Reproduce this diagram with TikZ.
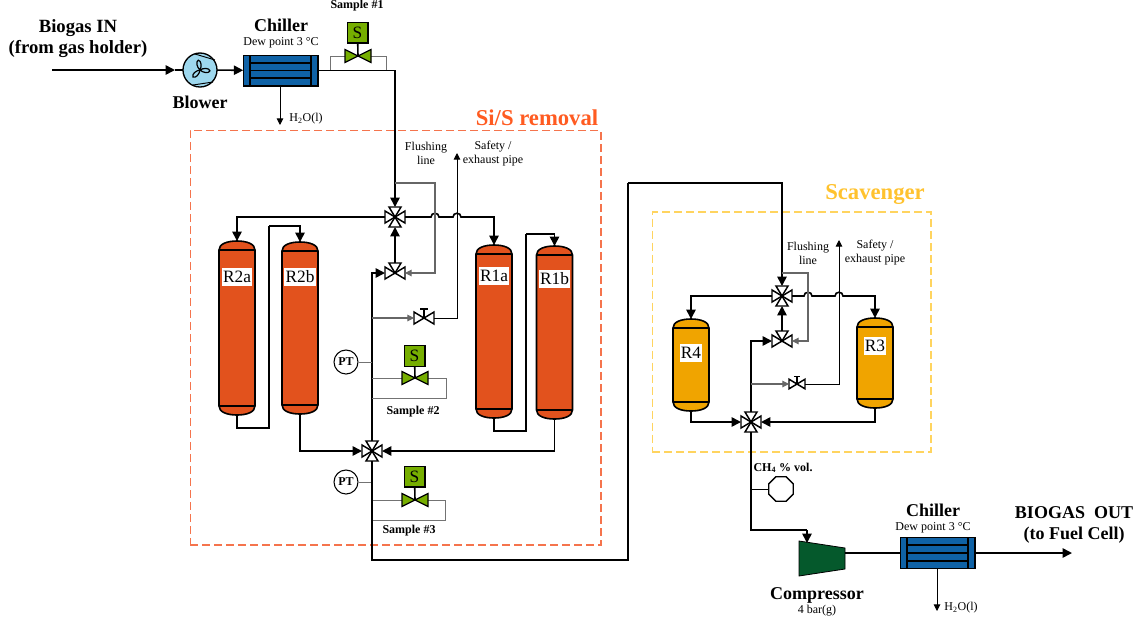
\documentclass[tikz,border=0pt]{standalone}
\usepackage{fontspec}
\setmainfont{Liberation Serif}
\usetikzlibrary{shapes.geometric, arrows.meta, positioning}

\definecolor{reactorred}{HTML}{E2521D}
\definecolor{reactoryel}{HTML}{F0A400}
\definecolor{chillblue}{HTML}{0F62A6}
\definecolor{blowblue}{HTML}{9ED8EE}
\definecolor{sgreen}{HTML}{76AE00}
\definecolor{compgreen}{HTML}{05592C}
\definecolor{siorange}{HTML}{F5744D}
\definecolor{sititle}{HTML}{FF5B21}
\definecolor{scavyel}{HTML}{FFD45F}
\definecolor{scavtitle}{HTML}{FFC22E}

% vessel: name, x, top, bottom, colour, label, label y
\newcommand{\vessel}[7]{%
  \pgfmathsetmacro{\vesT}{#3+9}
  \pgfmathsetmacro{\vesB}{#4-9}
  \pgfmathsetmacro{\vesM}{(#3+#4)/2}
  \pgfmathsetmacro{\vesH}{(#4-#3)*0.75}
  \filldraw[shell, fill=#5] (#2-18,\vesT) .. controls (#2-18,#3+3) and (#2-10,#3) .. (#2,#3)
    .. controls (#2+10,#3) and (#2+18,#3+3) .. (#2+18,\vesT) -- (#2+18,\vesB)
    .. controls (#2+18,#4-3) and (#2+10,#4) .. (#2,#4)
    .. controls (#2-10,#4) and (#2-18,#4-3) .. (#2-18,\vesB) -- cycle;
  \draw[shell] (#2-18,\vesT) -- (#2+18,\vesT) (#2-18,\vesB) -- (#2+18,\vesB);
  \node[inner sep=0pt, outer sep=0pt, minimum width=27pt, minimum height=\vesH pt] (#1) at (#2,\vesM) {};
  \node[tag] (#1tag) at (#2,#7) {#6};
}

\tikzset{
  shell/.style={line width=1.2pt},
  tag/.style={fill=white, inner xsep=1pt, inner ysep=2.5pt, font=\fontsize{13}{13}\selectfont},
  head/.style={font=\fontsize{13.5}{16}\selectfont\bfseries, align=center},
  small/.style={font=\fontsize{9}{10.5}\selectfont, align=center},
  smallb/.style={font=\fontsize{9}{10.5}\selectfont\bfseries, align=center},
  port/.style={rectangle, inner sep=0pt, outer sep=0pt, minimum size=15pt},
  chiller/.style={rectangle, draw=black, line width=1pt, fill=chillblue, minimum width=56pt, minimum height=23pt, inner sep=0pt, outer sep=0pt},
  sbox/.style={rectangle, draw=black, line width=1pt, fill=sgreen, minimum size=15.5pt, inner sep=0pt, font=\fontsize{13}{13}\selectfont},
  probe/.style={circle, draw=black, line width=0.8pt, fill=white, minimum size=18pt, inner sep=0pt, font=\fontsize{9}{9}\selectfont\bfseries},
  pipe/.style={line width=1.2pt},
  flow/.style={-{Triangle[length=7pt, width=7pt]}, line width=1.2pt},
  bleed/.style={line width=0.7pt, draw=black!55},
  feed/.style={-{Triangle[length=5pt, width=5pt]}, line width=0.8pt, draw=black!60},
  thinflow/.style={-{Triangle[length=5pt, width=5pt]}, line width=0.7pt},
  area/.style={rectangle, dash pattern=on 6pt off 3pt, line width=1pt, inner sep=0pt},
  valveline/.style={draw=black, line width=1.1pt, fill=white},
  fourway/.pic={
    \foreach \ang in {0,90,180,270}
      \filldraw[valveline, rotate=\ang] (0,0) -- (10,-6) -- (10,6) -- cycle;
    \fill (0,0) circle[radius=1.2];
  },
  threeway/.pic={
    \foreach \ang in {0,180,90}
      \filldraw[valveline, rotate=\ang] (0,0) -- (10,-6) -- (10,6) -- cycle;
    \fill (0,0) circle[radius=1.2];
  },
  gatevalve/.pic={
    \draw[line width=0.9pt] (0,0) -- (0,-9) (-4,-9) -- (4,-9);
    \foreach \ang in {0,180}
      \filldraw[valveline, rotate=\ang] (0,0) -- (10,-6) -- (10,6) -- cycle;
  },
  greenvalve/.pic={
    \foreach \ang in {0,180}
      \filldraw[draw=black, line width=0.9pt, fill=sgreen, rotate=\ang] (0,0) -- (13,-6.5) -- (13,6.5) -- cycle;
  },
  tubes/.pic={
    \draw[line width=1.3pt] (-30.5,-15) -- (-30.5,15) (30.5,-15) -- (30.5,15)
      (-30.5,-7.7) -- (30.5,-7.7) (-30.5,0) -- (30.5,0) (-30.5,7.7) -- (30.5,7.7);
  },
  fan/.pic={
    \draw[line width=0.7pt] (-5,-16) -- (15,-10) (-7,15) -- (13,12);
    \foreach \ang in {100,225,355}
      \filldraw[fill=blowblue, draw=black, line width=0.9pt, rotate=\ang]
        (0,0) .. controls (3,-2.5) and (9,-3) .. (10,0) .. controls (9,3) and (3,2.5) .. (0,0);
  }
}

\begin{document}
\begin{tikzpicture}[x=0.75pt, y=-0.75pt]
\useasboundingbox (0,0) rectangle (1140,626);

% Dashed areas
\node[area, draw=siorange, minimum width=308pt, minimum height=311pt] (siarea) at (395.5,337.5) {};
\node[area, draw=scavyel, minimum width=209pt, minimum height=180pt] (scavarea) at (791.5,332) {};
\node[font=\fontsize{17}{17}\selectfont\bfseries, text=sititle] (sititle) at (537,118) {Si/S removal};
\node[font=\fontsize{17}{17}\selectfont\bfseries, text=scavtitle] (scavtitle) at (875,194) {Scavenger};

% Inlet
\coordinate (bin) at (52,70);
\coordinate (btip) at (175,70);
\node[circle, draw=black, line width=1pt, fill=blowblue, minimum size=25.5pt, inner sep=0pt, outer sep=0pt] (blower) at (200,70) {};
\pic at (blower) {fan};
\node[chiller] (chillA) at (280.5,70.5) {};
\pic at (chillA) {tubes};
\node[head, font=\fontsize{14}{16}\selectfont\bfseries] (biogasin) at (78,38.5) {Biogas IN\\(from gas holder)};
\node[head] (blowertxt) at (200,102) {Blower};
\node[head] (chillAtxt) at (281,25) {Chiller};
\node[small, below=-2.5pt of chillAtxt] (dewA) {Dew point 3 °C};
\draw[flow] (bin) -- (btip);
\draw[pipe] (btip) -- (blower);
\draw[flow] (blower) -- (chillA);

\coordinate (drainA) at (280,125);
\draw[thinflow] (chillA.south -| drainA) -- (drainA);
\node[small] (h2oA) at (306,119) {H\textsubscript{2}O(l)};

% Sample #1
\node[sbox] (sA) at (357.5,32.5) {S};
\node[port, minimum size=19.5pt] (svA) at (358,56) {};
\coordinate (tA1) at (330,70);
\coordinate (tA2) at (386,70);
\draw[bleed] (tA1) |- (svA.west);
\draw[bleed] (svA.east) -| (tA2);
\draw[pipe] (sA) -- (svA.center);
\pic at (svA) {greenvalve};
\node[smallb] (sampleA) at (357,6) {Sample \#1};

% Valves of the Si/S skid
\node[port] (vA) at (395,217) {};
\node[port] (vB) at (395,273) {};
\node[port] (vC) at (424,318) {};
\node[port] (vD) at (372,451) {};
\pic at (vA) {fourway};
\pic at (vB) {threeway};
\pic at (vC) {gatevalve};
\pic at (vD) {fourway};

% Reactors
\vessel{rtwoa}{237}{241}{415}{reactorred}{R2a}{277}
\vessel{rtwob}{300}{242}{414}{reactorred}{R2b}{277}
\vessel{ronea}{494}{245}{418}{reactorred}{R1a}{276}
\vessel{roneb}{554.5}{246}{419}{reactorred}{R1b}{279}

% Main pipes Si/S
\draw[flow] (chillA.east) -| (vA.north);
\draw[flow] (vA.west) -| (rtwoa.north);
\draw[flow] (vA.east) -- (431,217) .. controls (431,212) and (439,212) .. (439,217)
  -- (453,217) .. controls (453,212) and (461,212) .. (461,217) -| (ronea.north);
\draw[flow] (vB.north) -- (vA.south);
\draw[flow] (vD.north) |- (vB.west);
\draw[pipe] (rtwoa.south) -- (237,428) -| (269,226);
\draw[flow] (269,226) -| (rtwob.north);
\draw[pipe] (ronea.south) -- (494,431) -| (526,234);
\draw[flow] (526,234) -| (roneb.north);
\draw[flow] (rtwob.south) |- (vD.west);
\draw[flow] (roneb.south) |- (vD.east);

% Flushing and safety lines
\coordinate (flushA) at (395,183);
\coordinate (safeA) at (457,153);
\coordinate (ventA) at (372,318);
\draw[feed] (flushA) -| (435,273) -- (vB.east);
\draw[feed] (ventA) -- (vC.west);
\draw[thinflow] (vC.east) -| (safeA);
\node[small] (flushtxtA) at (426,153.5) {Flushing\\line};
\node[small] (safetxtA) at (493,153.5) {Safety /\\exhaust pipe};

% Sample #2
\node[probe] (ptA) at (346,362) {PT};
\coordinate (ptAt) at (372,362);
\draw[bleed] (ptA) -- (ptAt);
\node[sbox] (sB) at (414.5,356) {S};
\node[port, minimum size=19.5pt] (svB) at (415,378) {};
\coordinate (tB1) at (372,378);
\coordinate (tB2) at (372,398);
\draw[bleed] (tB1) -- (svB.west);
\draw[bleed] (svB.east) -- (446,378) |- (tB2);
\draw[pipe] (sB) -- (svB.center);
\pic at (svB) {greenvalve};
\node[smallb] (sampleB) at (413,412) {Sample \#2};

% Sample #3
\node[probe] (ptB) at (346,482) {PT};
\coordinate (ptBt) at (372,482);
\draw[bleed] (ptB) -- (ptBt);
\node[sbox] (sC) at (414.5,476.5) {S};
\node[port, minimum size=19.5pt] (svC) at (415,500) {};
\coordinate (tC1) at (372,500);
\coordinate (tC2) at (372,520);
\draw[bleed] (tC1) -- (svC.west);
\draw[bleed] (svC.east) -- (445,500) |- (tC2);
\draw[pipe] (sC) -- (svC.center);
\pic at (svC) {greenvalve};
\node[smallb] (sampleC) at (409,531) {Sample \#3};

% Valves of the scavenger
\node[port] (vE) at (782,296) {};
\node[port] (vF) at (782,341) {};
\node[port, minimum size=12pt] (vG) at (797,384) {};
\node[port] (vH) at (751,422) {};
\pic at (vE) {fourway};
\pic at (vF) {threeway};
\pic[scale=0.8] at (vG) {gatevalve};
\pic at (vH) {fourway};

% Scavenger reactors
\vessel{rfour}{691}{319}{411}{reactoryel}{R4}{353}
\vessel{rthree}{875}{318}{408}{reactoryel}{R3}{346}

% Main pipes scavenger
\draw[pipe] (vD.south) |- (628,560) -- (628,183);
\draw[flow] (628,183) -| (vE.north);
\draw[flow] (vE.west) -| (rfour.north);
\draw[flow] (vE.east) -- (804,296) .. controls (804,291) and (812,291) .. (812,296)
  -- (835,296) .. controls (835,291) and (843,291) .. (843,296) -| (rthree.north);
\draw[flow] (vF.north) -- (vE.south);
\draw[flow] (vH.north) |- (vF.west);
\draw[flow] (rfour.south) |- (vH.west);
\draw[flow] (rthree.south) |- (vH.east);

% Flushing and safety lines
\coordinate (flushB) at (782,273);
\coordinate (safeB) at (839,240);
\coordinate (ventB) at (751,384);
\draw[feed] (flushB) -| (808,341) -- (vF.east);
\draw[feed] (ventB) -- (vG.west);
\draw[thinflow] (vG.east) -| (safeB);
\node[small] (flushtxtB) at (808,253) {Flushing\\line};
\node[small] (safetxtB) at (875,253) {Safety /\\exhaust pipe};

% CH4 analyser
\node[regular polygon, regular polygon sides=8, draw=black, line width=1pt, fill=white, minimum size=20pt, inner sep=0pt] (ana) at (781,489) {};
\coordinate (anat) at (751,489);
\draw[line width=0.6pt] (ana) -- (anat);
\node[smallb] (anatxt) at (783,468) {CH\textsubscript{4} \% vol.};

% Compressor and outlet
\coordinate (compin) at (807,543);
\node[inner sep=0pt, outer sep=0pt, minimum width=34.5pt, minimum height=26pt] (comp) at (822,553) {};
\filldraw[fill=compgreen, draw=black, line width=0.6pt] (799,541) -- (845,548) -- (845,569) -- (799,576) -- cycle;
\draw[pipe] (vH.south) |- (807,530);
\draw[flow] (807,530) -- (compin);
\node[chiller] (chillB) at (937.5,553) {};
\pic at (chillB) {tubes};
\draw[pipe] (comp.east) -- (chillB.west);
\coordinate (bout) at (1072,553);
\draw[flow] (chillB.east) -- (bout);
\coordinate (drainB) at (937,611);
\draw[thinflow] (chillB.south -| drainB) -- (drainB);
\node[small] (h2oB) at (961,608) {H\textsubscript{2}O(l)};
\node[head] (chillBtxt) at (933,510) {Chiller};
\node[small, below=-2.5pt of chillBtxt] (dewB) {Dew point 3 °C};
\node[head] (comptxt) at (817,595) {Compressor};
\node[small] (compbar) at (817,611) {4 bar(g)};
\node[head] (biogasout) at (1074,525) {BIOGAS\ \ OUT\\(to Fuel Cell)};

\end{tikzpicture}
\end{document}
